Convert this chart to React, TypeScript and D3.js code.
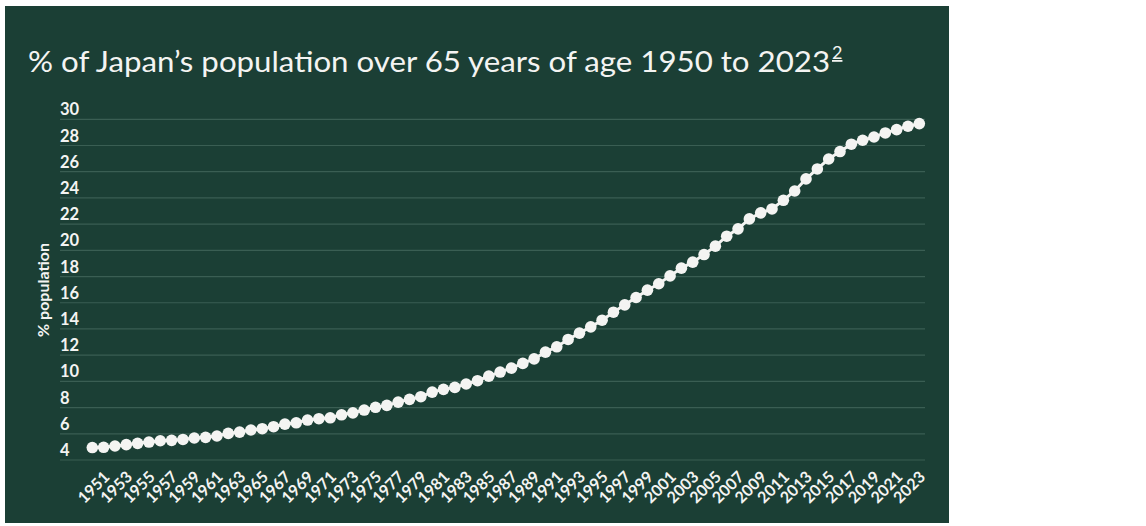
import React from "react";
import * as d3 from "d3";

const years: number[] = d3.range(1950, 2024);
const values: number[] = [
  4.95, 4.97, 5.07, 5.17, 5.27, 5.37, 5.47, 5.5, 5.57, 5.68,
  5.73, 5.83, 6.03, 6.13, 6.29, 6.39, 6.54, 6.74, 6.84, 7.05,
  7.15, 7.22, 7.45, 7.6, 7.81, 8.02, 8.17, 8.42, 8.63, 8.83,
  9.18, 9.39, 9.54, 9.8, 10.05, 10.4, 10.71, 11.01, 11.37, 11.72,
  12.23, 12.64, 13.2, 13.68, 14.16, 14.67, 15.28, 15.84, 16.4, 16.96,
  17.45, 18.05, 18.64, 19.1, 19.68, 20.32, 21.08, 21.64, 22.4, 22.86,
  23.16, 23.82, 24.53, 25.45, 26.21, 26.97, 27.54, 28.1, 28.4, 28.65,
  28.96, 29.21, 29.47, 29.67,
];
const yTicks: number[] = d3.range(4, 31, 2);
const xTickYears: number[] = years.filter((y) => y % 2 === 1);
const titleText = "% of Japan\u2019s population over 65 years of age 1950 to 2023";
const footnote = "2";
const yAxisTitle = "% population";

const BG = "#1b3f35";
const GRID = "#3a5e53";
const FG = "#f4f4f2";
const FONT = "Lato, 'Open Sans', sans-serif";

export default function App() {
  const x = d3.scaleLinear().domain([1950, 2023]).range([92.3, 919.3]);
  const y = d3.scaleLinear().domain([4, 30]).range([460, 119.3]);
  const line = d3
    .line<number>()
    .x((_, i) => x(years[i]))
    .y((d) => y(d));

  return (
    <svg
      width={1146}
      height={526}
      style={{ position: "absolute", left: 0, top: 0, display: "block" }}
      fontFamily={FONT}
    >
      <rect x={0} y={0} width={1146} height={526} fill="#ffffff" />
      <rect x={5} y={6} width={944} height={517} fill={BG} />
      <text x={28} y={72} fill={FG} fontSize={28} fontWeight={400} textLength={802} lengthAdjust="spacingAndGlyphs">
        {titleText}
      </text>
      <text x={832} y={59} fill={FG} fontSize={18} fontWeight={400} textDecoration="underline">
        {footnote}
      </text>

      {yTicks.map((t) => (
        <g key={t}>
          <line x1={60} x2={925} y1={y(t)} y2={y(t)} stroke={GRID} strokeWidth={1.2} />
          <text x={60} y={y(t) - 4} fill={FG} fontSize={16.5} fontWeight={700}>
            {t}
          </text>
        </g>
      ))}

      <text
        transform={`translate(49, 290) rotate(-90)`}
        textAnchor="middle"
        fill={FG}
        fontSize={16}
        fontWeight={700}
      >
        {yAxisTitle}
      </text>

      <path d={line(values) || ""} fill="none" stroke={FG} strokeWidth={3} />
      {values.map((v, i) => (
        <circle key={years[i]} cx={x(years[i])} cy={y(v)} r={5.8} fill={FG} />
      ))}

      {xTickYears.map((yr) => (
        <text
          key={yr}
          transform={`translate(${x(yr) + 7}, 478) rotate(-45)`}
          textAnchor="end"
          fill={FG}
          fontSize={16}
          fontWeight={700}
        >
          {yr}
        </text>
      ))}
    </svg>
  );
}
